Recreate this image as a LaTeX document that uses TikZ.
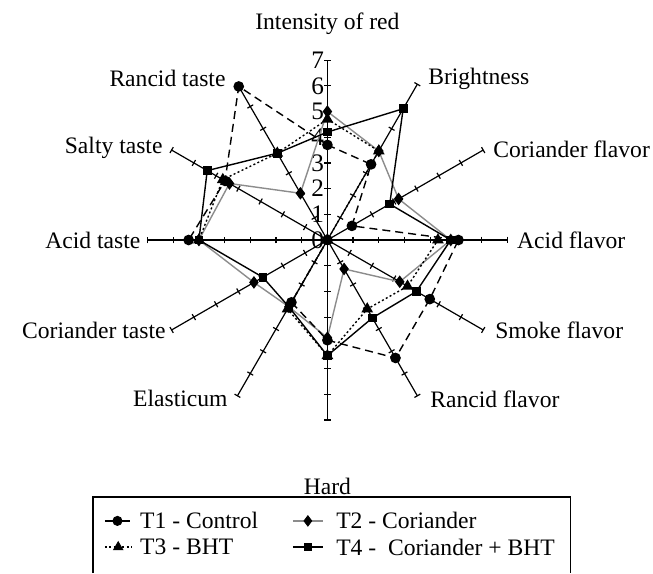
\documentclass[tikz,border=0pt]{standalone}
\usepackage{fontspec}
\setmainfont{Liberation Serif}
\usetikzlibrary{plotmarks}

\tikzset{
  spoke/.style={line width=0.6pt},
  tone1/.style={line width=0.7pt, dash pattern=on 4pt off 2.5pt},
  tone2/.style={line width=0.7pt, black!45},
  tone3/.style={line width=0.7pt, dash pattern=on 1pt off 1.2pt},
  tone4/.style={line width=0.7pt},
  lbl/.style={inner sep=0pt, font=\fontsize{11.8}{14}\selectfont},
}

\begin{document}
\begin{tikzpicture}[x=12.85pt,y=12.85pt]
  \useasboundingbox (-12.74,-12.96) rectangle (12.67,9.34);
  % spokes and ticks
  \foreach \a in {0,30,...,330} {
    \draw[spoke] (0,0) -- (\a:7);
    \foreach \r in {1,...,7}
      \draw[spoke] ([shift={(\a+90:0.13)}]\a:\r) -- ([shift={(\a-90:0.13)}]\a:\r);
  }
  \foreach \r in {0,...,7}
    \node[lbl, font=\fontsize{12.6}{14}\selectfont, anchor=east] (num\r) at (-0.12,\r) {\r};

  % axis labels
  \node[lbl] (red) at (0,8.40) {Intensity of red};
  \node[lbl, anchor=west] (bright) at (3.91,6.26) {Brightness};
  \node[lbl, anchor=west] (corflav) at (6.44,3.54) {Coriander flavor};
  \node[lbl, anchor=west] (acidflav) at (7.37,0) {Acid flavor};
  \node[lbl, anchor=west] (smoke) at (6.52,-3.50) {Smoke flavor};
  \node[lbl, anchor=west] (ranflav) at (3.99,-6.19) {Rancid flavor};
  \node[lbl] (hard) at (0,-9.60) {Hard};
  \node[lbl, anchor=east] (elast) at (-3.87,-6.15) {Elasticum};
  \node[lbl, anchor=east] (cortaste) at (-6.28,-3.50) {Coriander taste};
  \node[lbl, anchor=east] (acidtaste) at (-7.26,0) {Acid taste};
  \node[lbl, anchor=east] (salty) at (-6.40,3.58) {Salty taste};
  \node[lbl, anchor=east] (rantaste) at (-3.95,6.30) {Rancid taste};

  % T2
  \draw[tone2] plot[mark=diamond*, mark size=2.6pt, mark options={solid, fill=black, draw=black}]
    coordinates {(90:5.0) (60:4.0) (30:3.2) (0:4.8) (-30:3.25) (-60:1.3) (-90:3.8) (-120:3.0) (-150:3.3) (180:5.0) (150:4.4) (120:2.1)} -- cycle;
  % T1
  \draw[tone1] plot[mark=*, mark size=2.3pt, mark options={solid}]
    coordinates {(90:3.7) (60:3.4) (30:1.1) (0:5.1) (-30:4.6) (-60:5.3) (-90:3.9) (-120:2.8) (-150:0) (180:5.4) (150:4.6) (120:6.9)} -- cycle;
  % T3
  \draw[tone3] plot[mark=triangle*, mark size=2.7pt, mark options={solid}]
    coordinates {(90:4.7) (60:4.0) (30:0) (0:4.3) (-30:3.6) (-60:3.1) (-90:4.5) (-120:3.1) (-150:0) (180:5.0) (150:4.7) (120:3.9)} -- cycle;
  % T4
  \draw[tone4] plot[mark=square*, mark size=1.8pt]
    coordinates {(90:4.2) (60:5.9) (30:2.8) (0:4.8) (-30:4.0) (-60:3.5) (-90:4.5) (-120:3.0) (-150:2.9) (180:5.0) (150:5.4) (120:3.9)} -- cycle;

  % legend
  \draw[spoke] (-9.12,-12.96) -- (-9.12,-10.0) -- (9.47,-10.0) -- (9.47,-12.96);
  \draw[tone1, dash pattern=on 4pt off 4.6pt] (-8.66,-10.93) -- (-7.68,-10.93);
  \path plot[mark=*, mark size=2.3pt] coordinates {(-8.17,-10.93)};
  \node[lbl, anchor=west] (key1) at (-7.30,-10.93) {T1 - Control};
  \draw[tone2] (-1.34,-10.93) -- (-0.18,-10.93);
  \path plot[mark=diamond*, mark size=2.6pt] coordinates {(-0.76,-10.93)};
  \node[lbl, anchor=west] (key2) at (0.33,-10.93) {T2 - Coriander};
  \draw[tone3] (-8.66,-11.95) -- (-7.62,-11.95);
  \path plot[mark=triangle*, mark size=2.7pt] coordinates {(-8.14,-11.95)};
  \node[lbl, anchor=west] (key3) at (-7.30,-11.95) {T3 - BHT};
  \draw[tone4] (-1.34,-11.95) -- (-0.18,-11.95);
  \path plot[mark=square*, mark size=1.8pt] coordinates {(-0.76,-11.95)};
  \node[lbl, anchor=west] (key4) at (0.33,-11.95) {T4 -\ \ Coriander + BHT};
\end{tikzpicture}
\end{document}
